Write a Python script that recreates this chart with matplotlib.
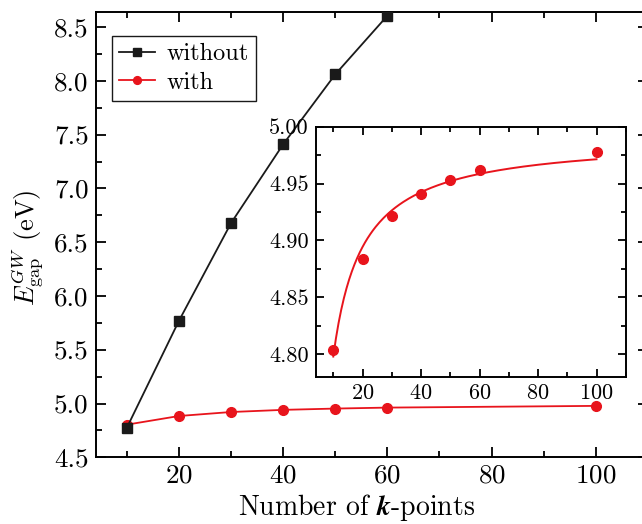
import numpy as np
import matplotlib
matplotlib.use("Agg")
import matplotlib.pyplot as plt
from matplotlib.ticker import MultipleLocator

plt.rcParams['font.family'] = 'serif'
plt.rcParams['font.serif'] = ['cmr10']
plt.rcParams['mathtext.fontset'] = 'cm'
plt.rcParams['axes.formatter.use_mathtext'] = True
plt.rcParams['axes.linewidth'] = 1.4

# data
kpts_without = [10, 20, 30, 40, 50, 60]
gap_without = [4.776, 5.77, 6.678, 7.41, 8.06, 8.605]

kpts_with = [10, 20, 30, 40, 50, 60, 100]
gap_with = [4.8035, 4.884, 4.921, 4.941, 4.953, 4.962, 4.978]

black = '#1a1a1a'
red = '#e8141c'


def style_ticks(ax, size, major_len, minor_len):
    ax.tick_params(which='both', direction='in', top=True, right=True,
                   width=1.3, labelsize=size, pad=5)
    ax.tick_params(which='major', length=major_len)
    ax.tick_params(which='minor', length=minor_len)


fig = plt.figure(figsize=(6.42, 5.24), dpi=100)
ax = fig.add_axes([0.149, 0.1273, 0.860, 0.8498])

l_with, = ax.plot(kpts_with, gap_with, '-o', color=red, lw=1.3, ms=7,
                  label='with', zorder=2)
l_without, = ax.plot(kpts_without, gap_without, '-s', color=black, lw=1.3,
                     ms=6.5, label='without', zorder=3)

ax.set_xlim(4, 110)
ax.set_ylim(4.5, 8.64)
ax.xaxis.set_major_locator(MultipleLocator(20))
ax.xaxis.set_minor_locator(MultipleLocator(10))
ax.yaxis.set_major_locator(MultipleLocator(0.5))
ax.yaxis.set_minor_locator(MultipleLocator(0.25))
ax.yaxis.set_major_formatter(plt.FormatStrFormatter('%.1f'))
style_ticks(ax, 19.5, 7, 4)
ax.set_xlabel(r'Number of $\boldsymbol{k}$-points', fontsize=20)
ax.set_ylabel(r'$E_{\rm gap}^{GW}$ (eV)', fontsize=19)
ax.xaxis.set_label_coords(0.472, -0.077)
ax.yaxis.set_label_coords(-0.09, 0.47)

leg = ax.legend(handles=[l_without, l_with], loc='upper left', fontsize=17.5,
                bbox_to_anchor=(0.029, 0.946), borderaxespad=0,
                fancybox=False, edgecolor=black, framealpha=1,
                handlelength=1.5, handletextpad=0.45, borderpad=0.3,
                labelspacing=0.25, markerscale=0.8)
leg.get_frame().set_linewidth(1.0)

# inset with the fit
ins = fig.add_axes([0.4918, 0.2811, 0.4829, 0.4771])
coef = np.polyfit(1.0 / np.array(kpts_with), gap_with, 1)
xfit = np.linspace(10, 100, 200)
ins.plot(xfit, np.polyval(coef, 1.0 / xfit), color=red, lw=1.4)
ins.plot(kpts_with, gap_with, 'o', color=red, ms=7)
ins.set_xlim(4, 110)
ins.set_ylim(4.78, 5.0)
ins.xaxis.set_major_locator(MultipleLocator(20))
ins.xaxis.set_minor_locator(MultipleLocator(10))
ins.yaxis.set_major_locator(MultipleLocator(0.05))
ins.yaxis.set_minor_locator(MultipleLocator(0.025))
ins.yaxis.set_major_formatter(plt.FormatStrFormatter('%.2f'))
style_ticks(ins, 16, 6, 3.5)

fig.savefig('out.png', dpi=100)
